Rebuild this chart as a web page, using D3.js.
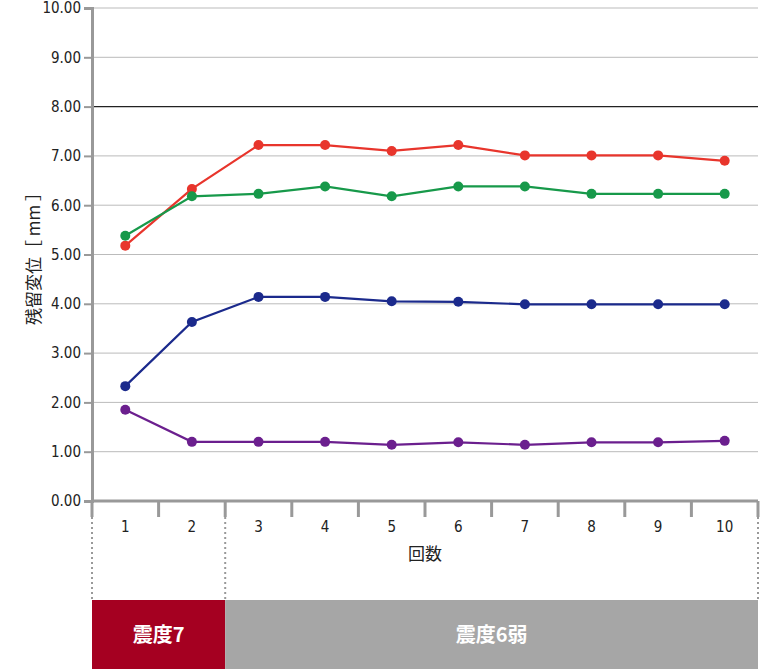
<!DOCTYPE html>
<html><head><meta charset="utf-8">
<script src="https://cdn.jsdelivr.net/npm/d3@7"></script>
<style>body{margin:0;background:#fff}svg{font-family:"Noto Sans CJK JP","Noto Sans",sans-serif}</style>
</head><body><svg id="c" width="760" height="669"></svg>
<script>
const categories = ["1","2","3","4","5","6","7","8","9","10"];
const redValues = [5.18,6.33,7.22,7.22,7.10,7.22,7.01,7.01,7.01,6.90];
const greenValues = [5.38,6.18,6.23,6.38,6.18,6.38,6.38,6.23,6.23,6.23];
const blueValues = [2.33,3.63,4.14,4.14,4.05,4.04,3.99,3.99,3.99,3.99];
const purpleValues = [1.85,1.20,1.20,1.20,1.14,1.19,1.14,1.19,1.19,1.22];
const yTicks = [0,1,2,3,4,5,6,7,8,9,10];
const series = [
  {v:redValues,c:"#e8352c"},{v:greenValues,c:"#17994a"},
  {v:blueValues,c:"#1b2a8c"},{v:purpleValues,c:"#6b1f8e"}];
const svg = d3.select("#c");
const L=92,R=758,T=8,B=501;
const x = d3.scaleBand().domain(categories).range([L,R]);
const y = d3.scaleLinear().domain([0,10]).range([B,T]);
// grid
svg.append("g").selectAll("line").data(yTicks.filter(d=>d>0)).join("line")
 .attr("x1",L).attr("x2",R).attr("y1",d=>y(d)).attr("y2",d=>y(d))
 .attr("stroke",d=>d===8?"#222":"#bbb").attr("stroke-width",d=>d===8?1.3:1);
// y axis
const ya = svg.append("g").attr("transform",`translate(${L},0)`)
 .call(d3.axisLeft(y).tickValues(yTicks).tickFormat(d3.format(".2f")).tickSize(8));
ya.select(".domain").attr("stroke","#999").attr("stroke-width",3);
ya.selectAll(".tick line").attr("stroke","#999").attr("stroke-width",2);
ya.selectAll("text").attr("font-size",15).attr("fill","#222").attr("font-family","DejaVu Sans Condensed, Liberation Sans Narrow, sans-serif");
// x axis
svg.append("line").attr("x1",L).attr("x2",R).attr("y1",B).attr("y2",B).attr("stroke","#999").attr("stroke-width",3);
const bounds = categories.map(c=>x(c)).concat([R]);
svg.append("g").selectAll("line").data(bounds).join("line")
 .attr("x1",d=>d).attr("x2",d=>d).attr("y1",B).attr("y2",B+16).attr("stroke","#999").attr("stroke-width",3);
svg.append("g").selectAll("text").data(categories).join("text")
 .attr("x",d=>x(d)+x.bandwidth()/2).attr("y",B+31).attr("text-anchor","middle")
 .attr("font-size",15).attr("fill","#222").attr("font-family","DejaVu Sans Condensed, sans-serif").text(d=>d);
svg.append("text").attr("x",(L+R)/2).attr("y",560).attr("text-anchor","middle").attr("font-size",17).attr("fill","#222").text("回数");
svg.append("text").attr("transform",`translate(40,${(T+B)/2}) rotate(-90)`).attr("text-anchor","middle")
 .attr("font-size",17).attr("fill","#222").text("残留変位［ mm ］");
// dotted separators
[L,x("3"),R].forEach(px=>svg.append("line").attr("x1",px).attr("x2",px).attr("y1",517).attr("y2",600)
 .attr("stroke","#999").attr("stroke-width",2).attr("stroke-dasharray","2,3"));
// bottom bars
svg.append("rect").attr("x",L).attr("y",600).attr("width",x("3")-L).attr("height",69).attr("fill","#a50021");
svg.append("rect").attr("x",x("3")).attr("y",600).attr("width",R-x("3")).attr("height",69).attr("fill","#a6a6a6");
svg.append("text").attr("x",(L+x("3"))/2).attr("y",642).attr("text-anchor","middle").attr("font-size",20).attr("font-weight","bold").attr("fill","#fff").text("震度7");
svg.append("text").attr("x",(x("3")+R)/2).attr("y",642).attr("text-anchor","middle").attr("font-size",20).attr("font-weight","bold").attr("fill","#fff").text("震度6弱");
// series
const cx = (d,i)=>x(categories[i])+x.bandwidth()/2;
const line = d3.line().x(cx).y(d=>y(d));
series.forEach(s=>{
  svg.append("path").datum(s.v).attr("d",line).attr("fill","none").attr("stroke",s.c).attr("stroke-width",2.2);
  svg.append("g").selectAll("circle").data(s.v).join("circle").attr("cx",cx).attr("cy",d=>y(d)).attr("r",5).attr("fill",s.c);
});
</script></body></html>
